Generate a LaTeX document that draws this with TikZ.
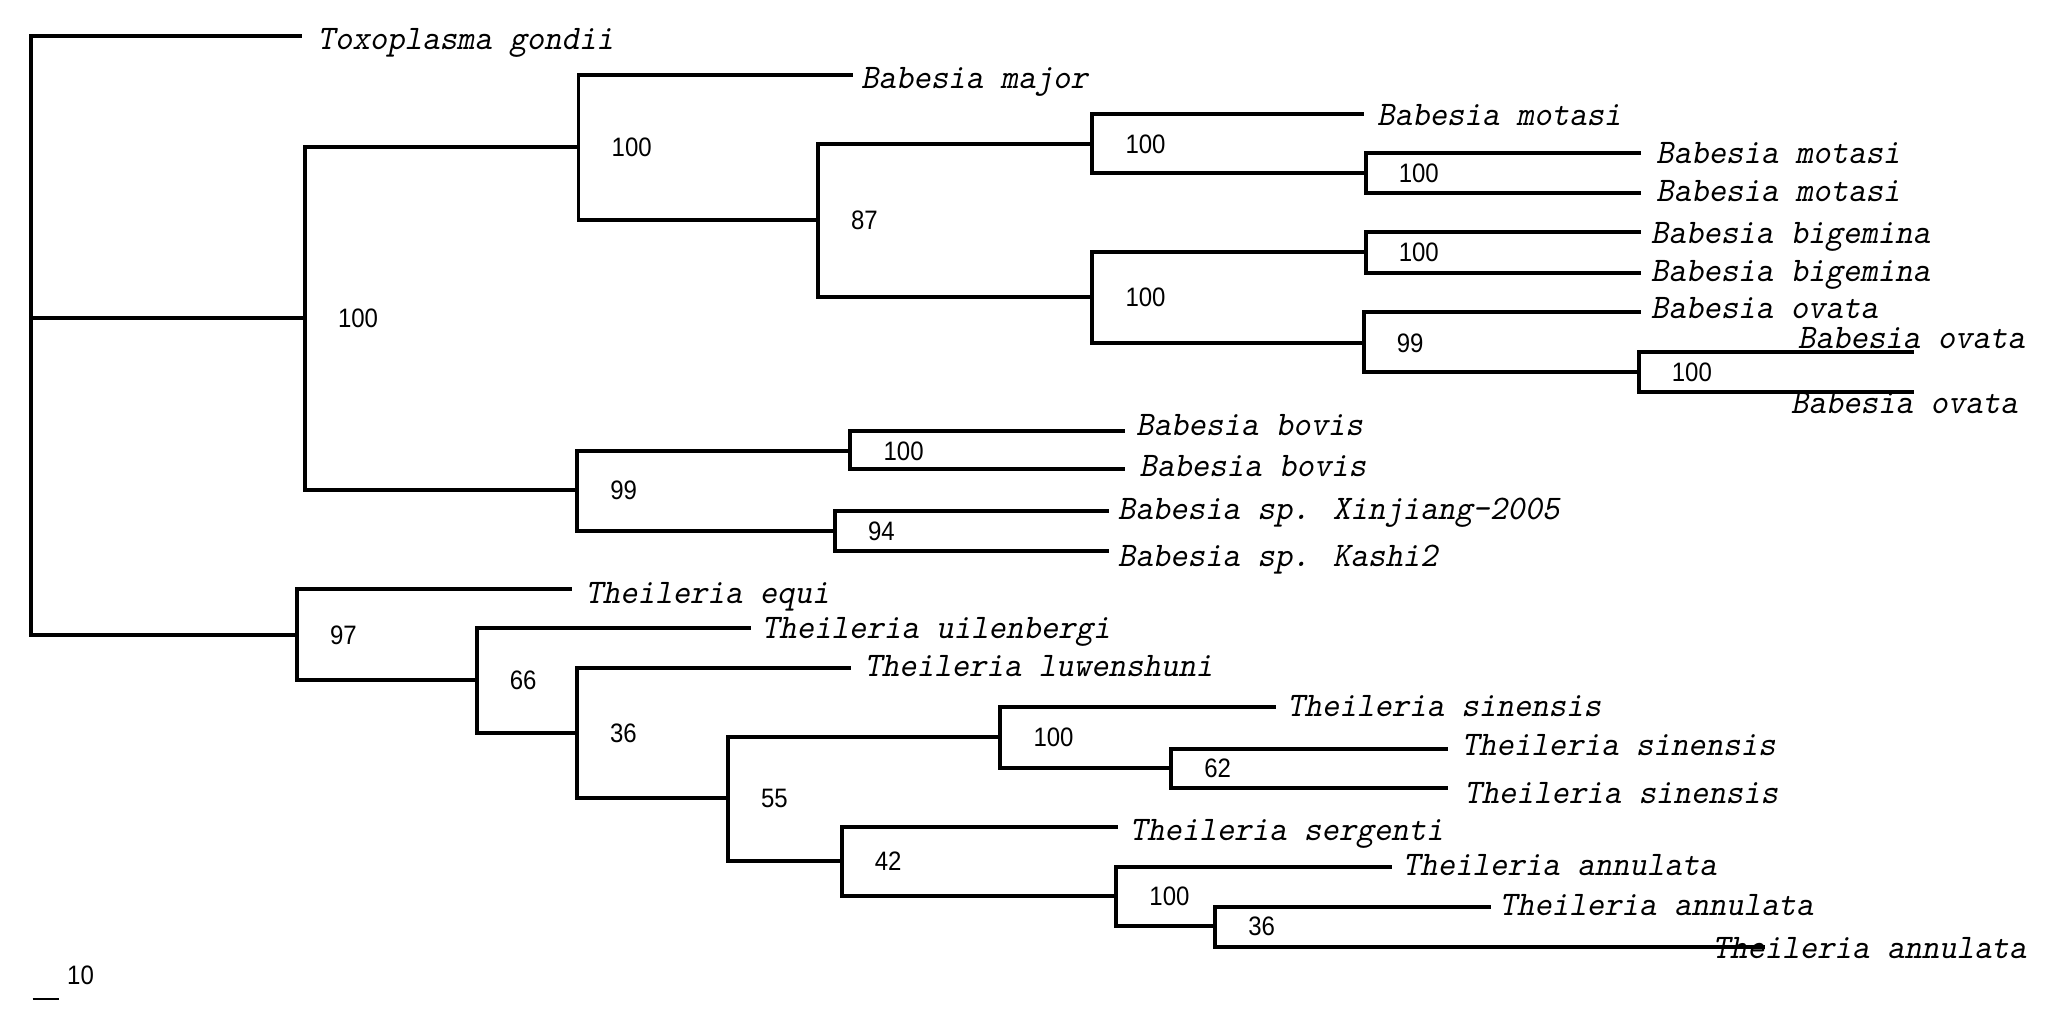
\documentclass[tikz,border=0pt]{standalone}
\usepackage{fontspec}
\newfontfamily\bsfont[FakeStretch=0.9]{Liberation Sans}
\newfontfamily\taxfont{lmmono10-regular.otf}[FakeSlant=0.2,FakeStretch=0.963]

\begin{document}
\begin{tikzpicture}[x=0.5pt,y=-0.5pt,
    branch/.style={line width=1.5pt},
    taxon/.style={anchor=base west,inner sep=0pt,font=\taxfont\fontsize{13.2}{14}\selectfont},
    num/.style={anchor=base west,inner sep=0pt,font=\bsfont\fontsize{10.2}{11}\selectfont},
    support/.style={num,xshift=12.5pt,yshift=-3.6pt}]
  \useasboundingbox (0,0) rectangle (1568,789);

  % inner nodes of the tree
  \coordinate (root) at (24,243.6);
  \coordinate (bab) at (233.3,243.6);
  \coordinate (bA) at (442.7,112.3);
  \coordinate (bB) at (625.9,168.4);
  \coordinate (bC) at (835.9,110.2);
  \coordinate (bD) at (1045,132.6);
  \coordinate (bE) at (835.9,227);
  \coordinate (bF) at (1045,192.6);
  \coordinate (bG) at (1043.5,262.2);
  \coordinate (bH) at (1254,284.9);
  \coordinate (bI) at (441.7,375);
  \coordinate (bJ) at (650.8,344.9);
  \coordinate (bK) at (638.9,406.4);
  \coordinate (the) at (227.2,486);
  \coordinate (tA) at (364.8,520.6);
  \coordinate (tB) at (441.5,560.7);
  \coordinate (tC) at (557,610.4);
  \coordinate (tD) at (765.5,564.2);
  \coordinate (tE) at (896.2,588);
  \coordinate (tF) at (644,658.6);
  \coordinate (tG) at (854.2,685.7);
  \coordinate (tH) at (929.9,708.6);

  % tips
  \coordinate (toxo) at (231,27.3);
  \coordinate (major) at (653,57.4);
  \coordinate (mot1) at (1044,87.2);
  \coordinate (mot2) at (1256,117.3);
  \coordinate (mot3) at (1256,147.9);
  \coordinate (big1) at (1256,177.8);
  \coordinate (big2) at (1256,208.7);
  \coordinate (ova1) at (1256,238.8);
  \coordinate (ova2) at (1464.7,269.1);
  \coordinate (ova3) at (1464.7,299.7);
  \coordinate (bov1) at (860.7,329.6);
  \coordinate (bov2) at (860.7,359.2);
  \coordinate (xinj) at (848.4,390.8);
  \coordinate (kashi) at (848.4,421.7);
  \coordinate (equi) at (438,451);
  \coordinate (uilen) at (575,480.8);
  \coordinate (luwen) at (651,511.4);
  \coordinate (sin1) at (976.4,541.3);
  \coordinate (sin2) at (1108.2,573.2);
  \coordinate (sin3) at (1108.2,602.8);
  \coordinate (serg) at (855.2,632.6);
  \coordinate (ann1) at (1065.5,663.2);
  \coordinate (ann2) at (1140.7,693.8);
  \coordinate (ann3) at (1350.4,724.4);

  % branches
  \draw[branch] (root) |- (toxo) (root) |- (bab) (root) |- (the);
  \draw[branch] (bab) |- (bA) (bab) |- (bI);
  \draw[branch] (bA) |- (major) (bA) |- (bB);
  \draw[branch] (bB) |- (bC) (bB) |- (bE);
  \draw[branch] (bC) |- (mot1) (bC) |- (bD);
  \draw[branch] (bD) |- (mot2) (bD) |- (mot3);
  \draw[branch] (bE) |- (bF) (bE) |- (bG);
  \draw[branch] (bF) |- (big1) (bF) |- (big2);
  \draw[branch] (bG) |- (ova1) (bG) |- (bH);
  \draw[branch] (bH) |- (ova2) (bH) |- (ova3);
  \draw[branch] (bI) |- (bJ) (bI) |- (bK);
  \draw[branch] (bJ) |- (bov1) (bJ) |- (bov2);
  \draw[branch] (bK) |- (xinj) (bK) |- (kashi);
  \draw[branch] (the) |- (equi) (the) |- (tA);
  \draw[branch] (tA) |- (uilen) (tA) |- (tB);
  \draw[branch] (tB) |- (luwen) (tB) |- (tC);
  \draw[branch] (tC) |- (tD) (tC) |- (tF);
  \draw[branch] (tD) |- (sin1) (tD) |- (tE);
  \draw[branch] (tE) |- (sin2) (tE) |- (sin3);
  \draw[branch] (tF) |- (serg) (tF) |- (tG);
  \draw[branch] (tG) |- (ann1) (tG) |- (tH);
  \draw[branch] (tH) |- (ann2) (tH) |- (ann3);

  % taxon names
  \node[taxon] (n-toxo) at (242.5,37.7) {Toxoplasma gondii};
  \node[taxon] (n-major) at (658.5,67.6) {Babesia major};
  \node[taxon] (n-mot1) at (1053.5,95.7) {Babesia motasi};
  \node[taxon] (n-mot2) at (1267,125) {Babesia motasi};
  \node[taxon] (n-mot3) at (1267,154.3) {Babesia motasi};
  \node[taxon] (n-big1) at (1263,186.2) {Babesia bigemina};
  \node[taxon] (n-big2) at (1263,215.5) {Babesia bigemina};
  \node[taxon] (n-ova1) at (1263,243.4) {Babesia ovata};
  \node[taxon] (n-ova2) at (1375.5,266.6) {Babesia ovata};
  \node[taxon] (n-ova3) at (1370,316.3) {Babesia ovata};
  \node[taxon] (n-bov1) at (869,332.9) {Babesia bovis};
  \node[taxon] (n-bov2) at (871.5,364.8) {Babesia bovis};
  \node[taxon] (n-xinj) at (855,397.4) {Babesia sp. Xinjiang-2005};
  \node[taxon] (n-kashi) at (855,433.6) {Babesia sp. Kashi2};
  \node[taxon] (n-equi) at (447.5,461.7) {Theileria equi};
  \node[taxon] (n-uilen) at (582.5,488.5) {Theileria uilenbergi};
  \node[taxon] (n-luwen) at (661,517.8) {Theileria luwenshuni};
  \node[taxon] (n-sin1) at (984.5,548.4) {Theileria sinensis};
  \node[taxon] (n-sin2) at (1118,578.5) {Theileria sinensis};
  \node[taxon] (n-sin3) at (1120,614.7) {Theileria sinensis};
  \node[taxon] (n-serg) at (864,642.8) {Theileria sergenti};
  \node[taxon] (n-ann1) at (1073,669.6) {Theileria annulata};
  \node[taxon] (n-ann2) at (1147,700.2) {Theileria annulata};
  \node[taxon] (n-ann3) at (1310,733.3) {Theileria annulata};

  % bootstrap values
  \node[support] (s-bab) at (bab) {100};
  \node[support] (s-bA) at (bA) {100};
  \node[support] (s-bB) at (bB) {87};
  \node[support] (s-bC) at (bC) {100};
  \node[support] (s-bD) at (bD) {100};
  \node[support] (s-bE) at (bE) {100};
  \node[support] (s-bF) at (bF) {100};
  \node[support] (s-bG) at (bG) {99};
  \node[support] (s-bH) at (bH) {100};
  \node[support] (s-bI) at (bI) {99};
  \node[support] (s-bJ) at (bJ) {100};
  \node[support] (s-bK) at (bK) {94};
  \node[support] (s-the) at (the) {97};
  \node[support] (s-tA) at (tA) {66};
  \node[support] (s-tB) at (tB) {36};
  \node[support] (s-tC) at (tC) {55};
  \node[support] (s-tD) at (tD) {100};
  \node[support] (s-tE) at (tE) {62};
  \node[support] (s-tF) at (tF) {42};
  \node[support] (s-tG) at (tG) {100};
  \node[support] (s-tH) at (tH) {36};

  % scale bar
  \coordinate (sbL) at (25,764.7);
  \coordinate (sbR) at (45,764.7);
  \draw[line width=0.9pt] (sbL) -- (sbR);
  \node[num] (s-scale) at (51,753.7) {10};
\end{tikzpicture}
\end{document}
